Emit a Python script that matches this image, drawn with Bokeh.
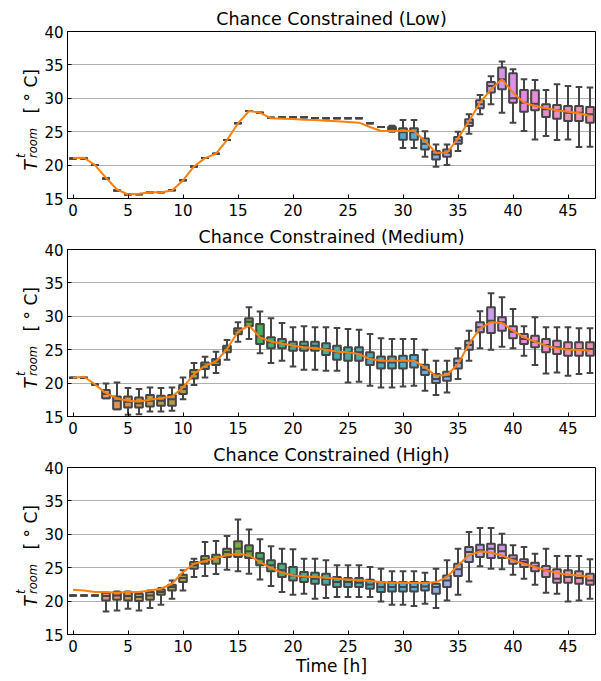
import math
import colorsys
import numpy as np
from bokeh.plotting import figure
from bokeh.layouts import column, row
from bokeh.models import ColumnDataSource, FixedTicker, Range1d
from bokeh.core.properties import value
from bokeh.embed import file_html
from bokeh.resources import INLINE

# ---------------- data ----------------
hours = list(range(48))
x_ticks = [0, 5, 10, 15, 20, 25, 30, 35, 40, 45]
y_ticks = [15, 20, 25, 30, 35, 40]
titles = ["Chance Constrained (Low)", "Chance Constrained (Medium)", "Chance Constrained (High)"]
x_label = "Time [h]"
y_label_parts = ["T", "t", "room", "[ ° C]"]

# Low
low_lo = [21.0, 21.0, 20.0, 18.0, 16.2, 15.6, 15.65, 15.95, 15.95, 16.25, 17.75, 19.8, 21.05, 21.7, 23.75, 26.25,
          28.1, 27.85, 27.1, 27.15, 27.15, 27.15, 27.05, 27.0, 27.0, 27.0, 27.0, 26.25, 25.7, 25.0, 22.55, 22.55,
          21.25, 19.75, 20.0, 22.1, 24.7, 27.6, 29.1, 27.85, 26.35, 25.1, 23.85, 24.35, 23.75, 23.85, 22.7, 22.75]
low_q1 = [21.0, 21.0, 20.0, 18.0, 16.2, 15.6, 15.65, 15.95, 15.95, 16.25, 17.75, 19.8, 21.05, 21.7, 23.75, 26.25,
          28.1, 27.85, 27.1, 27.15, 27.15, 27.15, 27.05, 27.0, 27.0, 27.0, 27.0, 26.25, 25.7, 25.2, 23.8, 23.8,
          22.35, 20.85, 21.25, 23.2, 25.85, 28.5, 30.85, 31.35, 29.35, 28.0, 28.2, 27.2, 26.95, 26.6, 26.6, 26.35]
low_med = [21.0, 21.0, 20.0, 18.0, 16.2, 15.6, 15.65, 15.95, 15.95, 16.25, 17.75, 19.8, 21.05, 21.7, 23.75, 26.25,
           28.1, 27.85, 27.1, 27.15, 27.15, 27.15, 27.05, 27.0, 27.0, 27.0, 27.0, 26.25, 25.7, 25.5, 24.9, 24.9,
           23.2, 21.6, 21.85, 23.7, 26.35, 29.1, 31.85, 32.85, 30.0, 29.35, 29.2, 28.35, 28.2, 27.85, 27.85, 27.6]
low_q3 = [21.0, 21.0, 20.0, 18.0, 16.2, 15.6, 15.65, 15.95, 15.95, 16.25, 17.75, 19.8, 21.05, 21.7, 23.75, 26.25,
          28.1, 27.85, 27.1, 27.15, 27.15, 27.15, 27.05, 27.0, 27.0, 27.0, 27.0, 26.25, 25.7, 25.75, 25.5, 25.5,
          24.0, 22.1, 22.35, 24.2, 26.85, 29.7, 32.45, 34.6, 33.75, 31.25, 31.2, 29.1, 29.0, 28.85, 28.85, 28.7]
low_hi = [21.0, 21.0, 20.0, 18.0, 16.2, 15.6, 15.65, 15.95, 15.95, 16.25, 17.75, 19.8, 21.05, 21.7, 23.75, 26.25,
          28.1, 27.85, 27.1, 27.15, 27.15, 27.15, 27.05, 27.0, 27.0, 27.0, 27.0, 26.25, 25.7, 25.9, 26.75, 26.75,
          25.05, 23.1, 23.1, 25.0, 27.6, 30.5, 33.3, 35.5, 34.35, 32.85, 32.75, 31.25, 32.1, 31.85, 31.7, 31.6]
low_line = [21.05, 21.1, 20.0, 18.1, 16.35, 15.6, 15.7, 15.95, 15.95, 16.2, 17.7, 19.8, 21.05, 21.7, 23.75, 26.25,
            28.1, 27.85, 27.0, 26.95, 26.9, 26.8, 26.75, 26.65, 26.55, 26.45, 26.35, 25.7, 25.1, 25.1, 25.1, 25.1,
            23.6, 21.85, 21.85, 24.0, 26.6, 29.35, 31.35, 32.85, 30.85, 29.35, 28.85, 28.5, 28.2, 28.0, 27.75, 27.35]

# Medium
med_lo = [20.8, 20.8, 19.8, 17.75, 16.1, 15.25, 15.35, 15.75, 15.75, 15.85, 17.6, 19.7, 20.85, 21.5, 23.5, 26.2,
          26.6, 24.45, 23.0, 23.35, 22.5, 22.0, 22.0, 21.85, 21.85, 20.1, 20.2, 19.6, 19.35, 19.35, 19.5, 19.6,
          18.85, 18.2, 18.6, 20.6, 23.35, 25.2, 25.0, 25.45, 25.2, 24.1, 22.7, 21.45, 21.6, 21.1, 21.35, 21.5]
med_q1 = [20.8, 20.8, 19.8, 17.75, 16.1, 16.35, 16.35, 16.5, 16.6, 16.6, 18.35, 20.7, 22.1, 22.7, 24.6, 27.3,
          28.5, 25.85, 25.2, 25.2, 24.85, 24.85, 24.85, 24.2, 23.5, 23.35, 23.35, 22.7, 22.2, 22.2, 22.2, 22.35,
          21.2, 20.0, 20.35, 22.2, 25.0, 27.6, 27.5, 27.85, 26.7, 25.85, 25.35, 24.6, 24.35, 24.1, 24.1, 24.1]
med_med = [20.8, 20.8, 19.8, 18.35, 17.35, 17.2, 17.0, 17.35, 17.35, 17.6, 19.1, 21.35, 22.7, 23.25, 25.2, 27.85,
           29.2, 27.0, 26.1, 26.0, 25.6, 25.6, 25.6, 25.1, 24.6, 24.6, 24.6, 23.7, 23.1, 23.1, 23.2, 23.35,
           22.0, 20.6, 21.0, 23.0, 25.7, 28.35, 29.35, 29.1, 27.7, 26.6, 26.2, 25.7, 25.35, 25.1, 25.1, 25.1]
med_q3 = [20.8, 20.8, 19.8, 18.95, 18.0, 18.0, 17.85, 18.2, 18.1, 18.2, 19.7, 21.95, 23.1, 23.6, 25.6, 28.2,
          29.7, 28.85, 26.85, 26.6, 26.2, 26.2, 26.2, 25.95, 25.6, 25.35, 25.35, 24.6, 24.0, 24.0, 24.1, 24.2,
          22.75, 21.35, 21.7, 23.7, 26.35, 29.1, 31.35, 29.85, 28.5, 27.35, 27.1, 26.6, 26.35, 26.1, 26.1, 26.1]
med_hi = [20.8, 20.8, 19.8, 19.95, 20.1, 19.25, 19.1, 19.35, 19.25, 19.35, 20.85, 23.0, 23.95, 24.7, 26.45, 29.1,
          31.35, 30.7, 29.7, 29.0, 28.35, 28.5, 28.35, 28.35, 28.25, 28.1, 28.0, 27.35, 26.7, 26.6, 26.6, 26.6,
          25.0, 23.35, 23.35, 25.2, 27.85, 30.75, 33.45, 32.85, 31.1, 28.5, 29.85, 28.35, 28.35, 28.35, 28.2, 28.2]
med_line = [20.8, 20.95, 19.8, 18.5, 17.7, 17.35, 17.25, 17.5, 17.75, 18.0, 19.35, 21.35, 22.6, 23.25, 25.1, 27.7,
            28.6, 26.85, 26.2, 25.95, 25.6, 25.35, 25.2, 25.0, 24.7, 24.6, 24.35, 23.6, 23.35, 23.35, 23.35, 23.35,
            22.35, 21.1, 21.2, 22.85, 25.85, 28.2, 29.1, 29.0, 27.85, 26.85, 26.2, 25.6, 25.2, 25.0, 25.0, 24.85]

# High
high_lo = [20.85, 20.85, 20.85, 18.45, 18.6, 18.85, 18.6, 18.95, 19.45, 20.35, 21.6, 23.6, 23.75, 24.05, 24.7, 24.45,
           24.1, 23.25, 22.25, 21.35, 20.95, 21.1, 20.35, 20.45, 20.6, 20.6, 20.6, 20.6, 19.95, 19.45, 19.45, 19.25,
           19.6, 18.95, 20.1, 20.95, 22.95, 25.2, 24.85, 24.75, 23.95, 23.35, 22.45, 21.25, 21.1, 19.95, 20.1, 20.35]
high_q1 = [20.85, 20.85, 20.85, 20.1, 20.2, 20.1, 20.0, 20.2, 20.95, 21.6, 22.85, 24.85, 25.6, 25.6, 26.6, 26.6,
           26.45, 25.35, 24.45, 23.6, 23.1, 22.85, 22.6, 22.45, 22.1, 22.1, 22.1, 21.85, 21.35, 21.45, 21.45, 21.45,
           21.6, 21.1, 22.1, 23.75, 25.85, 26.6, 26.45, 26.45, 25.6, 25.1, 24.45, 23.6, 22.75, 22.75, 22.6, 22.45]
high_med = [20.85, 20.85, 20.85, 20.75, 20.85, 20.75, 20.6, 20.85, 21.35, 22.1, 23.45, 25.35, 26.2, 26.45, 27.35, 27.85,
            27.45, 26.35, 25.35, 24.6, 23.85, 23.6, 23.35, 23.35, 22.85, 22.85, 22.75, 22.5, 22.1, 22.1, 22.1, 22.1,
            22.2, 22.1, 23.1, 24.75, 27.35, 27.6, 27.85, 27.45, 26.35, 25.85, 25.2, 24.6, 23.35, 23.6, 23.45, 23.1]
high_q3 = [20.85, 20.85, 20.85, 21.25, 21.35, 21.35, 21.1, 21.35, 21.75, 22.45, 23.95, 25.85, 26.75, 26.95, 27.85, 28.95,
           28.35, 27.2, 26.1, 25.6, 25.1, 24.35, 24.25, 24.1, 23.6, 23.45, 23.45, 23.2, 22.85, 22.85, 22.85, 22.85,
           22.85, 22.6, 23.85, 25.6, 28.1, 28.45, 28.6, 28.45, 26.85, 26.25, 25.75, 25.25, 24.75, 24.6, 24.45, 24.1]
high_hi = [20.85, 20.85, 20.85, 21.25, 21.45, 21.45, 21.35, 21.6, 21.95, 23.1, 24.6, 26.35, 28.85, 29.0, 29.75, 32.2,
           30.7, 29.25, 28.2, 27.85, 27.75, 26.35, 26.35, 26.1, 25.35, 25.35, 25.35, 25.1, 24.85, 24.45, 24.45, 24.45,
           24.25, 24.85, 26.1, 27.85, 30.35, 30.95, 30.95, 30.1, 28.35, 28.1, 27.1, 27.85, 26.75, 26.75, 26.75, 26.25]
high_line = [21.7, 21.6, 21.35, 21.35, 21.25, 21.35, 21.35, 21.6, 21.85, 22.6, 24.35, 25.6, 26.0, 26.45, 26.85, 27.1,
             26.85, 25.85, 24.95, 24.25, 23.85, 23.7, 23.6, 23.5, 23.35, 23.25, 23.15, 23.0, 22.85, 22.75, 22.75, 22.7,
             22.7, 22.85, 23.6, 25.35, 26.85, 27.45, 27.25, 26.85, 26.1, 25.6, 25.1, 24.6, 24.2, 23.95, 23.85, 23.6]

# ---------------- colours (seaborn husl palette, desaturated) ----------------
_M = [[3.2406, -1.5372, -0.4986], [-0.9689, 1.8758, 0.0415], [0.0557, -0.2040, 1.0570]]


def _max_chroma(L, H):
    hrad = math.radians(H)
    sinH, cosH = math.sin(hrad), math.cos(hrad)
    sub1 = (L + 16) ** 3 / 1560896.0
    sub2 = sub1 if sub1 > 0.008856 else L / 903.3
    result = float("inf")
    for m1, m2, m3 in _M:
        top = (0.99915 * m1 + 1.05122 * m2 + 1.14460 * m3) * sub2
        rbottom = 0.86330 * m3 - 0.17266 * m2
        lbottom = 0.12949 * m3 - 0.38848 * m1
        bottom = (rbottom * sinH + lbottom * cosH) * sub2
        for t in (0.0, 1.0):
            C = L * (top - 1.05122 * t) / (bottom + 0.17266 * sinH * t)
            if 0.0 < C < result:
                result = C
    return result


def _husl_to_rgb(H, S, L):
    C = _max_chroma(L, H) / 100.0 * S
    hrad = math.radians(H)
    U, V = math.cos(hrad) * C, math.sin(hrad) * C
    t = (L + 16.0) / 116.0
    Y = t ** 3 if t ** 3 > 0.008856 else (116.0 * t - 16.0) / 903.3
    varU = U / (13.0 * L) + 0.19784
    varV = V / (13.0 * L) + 0.46834
    X = -(9.0 * Y * varU) / ((varU - 4.0) * varV - varU * varV)
    Z = (9.0 * Y - 15.0 * varV * Y - varV * X) / (3.0 * varV)
    out = []
    for r_ in _M:
        c = r_[0] * X + r_[1] * Y + r_[2] * Z
        c = 12.92 * c if c <= 0.0031308 else 1.055 * c ** (1 / 2.4) - 0.055
        out.append(min(max(c, 0.0), 1.0))
    return out


def _to_hex(rgb):
    return "#%02x%02x%02x" % tuple(int(round(v * 255)) for v in rgb)


_hues = ((np.linspace(0, 1, len(hours) + 1)[:-1] + 0.01) % 1) * 359
box_colors = []
_light = []
for _h in _hues:
    r, g, b = _husl_to_rgb(_h, 0.9 * 99, 0.7 * 99)
    hh, ll, ss = colorsys.rgb_to_hls(r, g, b)
    rgb = colorsys.hls_to_rgb(hh, ll, ss * 0.75)
    box_colors.append(_to_hex(rgb))
    _light.append(colorsys.rgb_to_hls(*rgb)[1])
_lum = min(_light) * 0.6
GRAY = _to_hex((_lum, _lum, _lum))
ORANGE = "#ff7f0e"
FONT = "DejaVu Sans"

BOX_W = 0.7
CAP_W = 0.6
FRAME_H = 167
LAB_W = 40
FRAME_LEFT = 67


def make_ylabel(height, b_top, b_bottom):
    f = figure(width=LAB_W, height=height, x_range=Range1d(0, LAB_W), y_range=Range1d(0, FRAME_H),
               output_backend="svg", toolbar_location=None, x_axis_type=None, y_axis_type=None,
               min_border_left=0, min_border_right=0, min_border_top=b_top, min_border_bottom=b_bottom)
    f.outline_line_color = None
    f.background_fill_color = "white"
    f.border_fill_color = "white"
    f.grid.visible = False
    # positions of the pieces of the label (pixels inside this small panel)
    specs = [(y_label_parts[0], 30.2, 28.0, "17px", "italic"),
             (y_label_parts[1], 20.2, 40.5, "11.5px", "italic"),
             (y_label_parts[2], 32.0, 40.5, "11.5px", "italic"),
             (y_label_parts[3], 30.2, 85.0, "17px", "normal")]
    for txt, xx, yy, fs, st in specs:
        f.text(x=[xx], y=[yy], text=[txt], angle=math.pi / 2, text_font=value(FONT),
               text_font_size=value(fs), text_font_style=value(st), text_align="left",
               text_baseline="alphabetic", text_color="black")
    return f


def make_panel(title, lo, q1, med, q3, hi, line, height, b_top, b_bottom, xlabel):
    p = figure(width=601 - LAB_W, height=height, x_range=Range1d(-0.5, 47.5), y_range=Range1d(15, 40),
               output_backend="svg", toolbar_location=None,
               min_border_left=FRAME_LEFT - LAB_W, min_border_right=6,
               min_border_top=b_top, min_border_bottom=b_bottom)
    p.background_fill_color = "white"
    p.border_fill_color = "white"
    p.outline_line_color = "black"
    p.outline_line_width = 1

    p.title.text = title
    p.title.align = "center"
    p.title.text_font = FONT
    p.title.text_font_size = "17.5px"
    p.title.text_font_style = "normal"
    p.title.text_color = "black"
    p.title.standoff = 5

    p.xgrid.visible = False
    p.ygrid.grid_line_color = "#b0b0b0"
    p.ygrid.grid_line_width = 1.2
    p.xaxis.ticker = FixedTicker(ticks=x_ticks)
    p.yaxis.ticker = FixedTicker(ticks=y_ticks)
    for ax in (p.xaxis, p.yaxis):
        ax.major_tick_in = 4
        ax.major_tick_out = 0
        ax.minor_tick_line_color = None
        ax.major_tick_line_color = "black"
        ax.axis_line_color = "black"
        ax.major_label_text_font = FONT
        ax.major_label_text_font_size = "15px"
        ax.major_label_text_color = "black"
    p.xaxis.major_label_standoff = 5
    p.yaxis.major_label_standoff = 4
    if xlabel:
        p.xaxis.axis_label = xlabel
        p.xaxis.axis_label_text_font = FONT
        p.xaxis.axis_label_text_font_size = "17px"
        p.xaxis.axis_label_text_font_style = "normal"
        p.xaxis.axis_label_text_color = "black"
        p.xaxis.axis_label_standoff = 1

    src = ColumnDataSource(dict(
        x=hours, left=[h - BOX_W / 2 for h in hours], right=[h + BOX_W / 2 for h in hours],
        cl=[h - CAP_W / 2 for h in hours], cr=[h + CAP_W / 2 for h in hours],
        lo=lo, q1=q1, med=med, q3=q3, hi=hi, color=box_colors))

    p.segment(x0="x", x1="x", y0="q3", y1="hi", source=src, line_color=GRAY, line_width=2)
    p.segment(x0="x", x1="x", y0="q1", y1="lo", source=src, line_color=GRAY, line_width=2)
    p.segment(x0="cl", x1="cr", y0="hi", y1="hi", source=src, line_color=GRAY, line_width=2)
    p.segment(x0="cl", x1="cr", y0="lo", y1="lo", source=src, line_color=GRAY, line_width=2)
    p.quad(left="left", right="right", bottom="q1", top="q3", source=src,
           fill_color="color", line_color=GRAY, line_width=2)
    p.segment(x0="left", x1="right", y0="med", y1="med", source=src, line_color=GRAY, line_width=2)
    p.line(hours, line, line_color=ORANGE, line_width=2)
    return p


heights = [222, 218, 241]
tops = [31, 27, 27]
bottoms = [24, 24, 47]
data = [(low_lo, low_q1, low_med, low_q3, low_hi, low_line),
        (med_lo, med_q1, med_med, med_q3, med_hi, med_line),
        (high_lo, high_q1, high_med, high_q3, high_hi, high_line)]
rows = []
for i in range(3):
    lab = make_ylabel(heights[i], tops[i], bottoms[i])
    pan = make_panel(titles[i], *data[i], heights[i], tops[i], bottoms[i], x_label if i == 2 else None)
    rows.append(row(lab, pan, spacing=0))

layout = column(*rows, spacing=0)
open("out.html", "w").write(file_html(layout, INLINE))
